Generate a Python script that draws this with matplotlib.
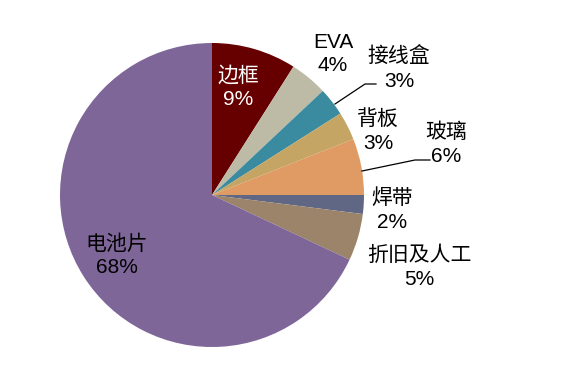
import matplotlib.pyplot as plt

plt.rcParams['font.family'] = ['Liberation Sans', 'Noto Sans CJK SC']

labels = ['边框', 'EVA', '接线盒', '背板', '玻璃', '焊带', '折旧及人工', '电池片']
values = [9, 4, 3, 3, 6, 2, 5, 68]
colors = ['#660000', '#BDBAA6', '#3A8AA0', '#C4A563', '#E09A64', '#5F6784', '#9C846A', '#7E6699']

# label positions in pixel space (x, y from top)
label_pos = [(238, 87), (333, 54), (399, 69), (378, 131), (446, 144), (392, 210), (419, 267), (117, 256)]
text_colors = ['white'] + ['black'] * 7

W, H = 578, 369
fig = plt.figure(figsize=(W / 100, H / 100), dpi=100)
ax = fig.add_axes([0, 0, 1, 1])
ax.pie(values, colors=colors, startangle=90, counterclock=False,
       center=(212, H - 195), radius=152,
       wedgeprops=dict(linewidth=0))
ax.set_xlim(0, W)
ax.set_ylim(0, H)
ax.set_aspect('equal')
ax.axis('off')

for lab, v, (x, y), c in zip(labels, values, label_pos, text_colors):
    ax.text(x, H - y, f'{lab}\n{v}%', ha='center', va='center',
            fontsize=15, color=c, linespacing=1.3)

# leader lines
ax.plot([335, 365, 376], [H - 104, H - 84, H - 84], color='black', lw=0.9)
ax.plot([362, 415, 430], [H - 171, H - 160, H - 160], color='black', lw=0.9)

fig.savefig('out.png', dpi=100)
